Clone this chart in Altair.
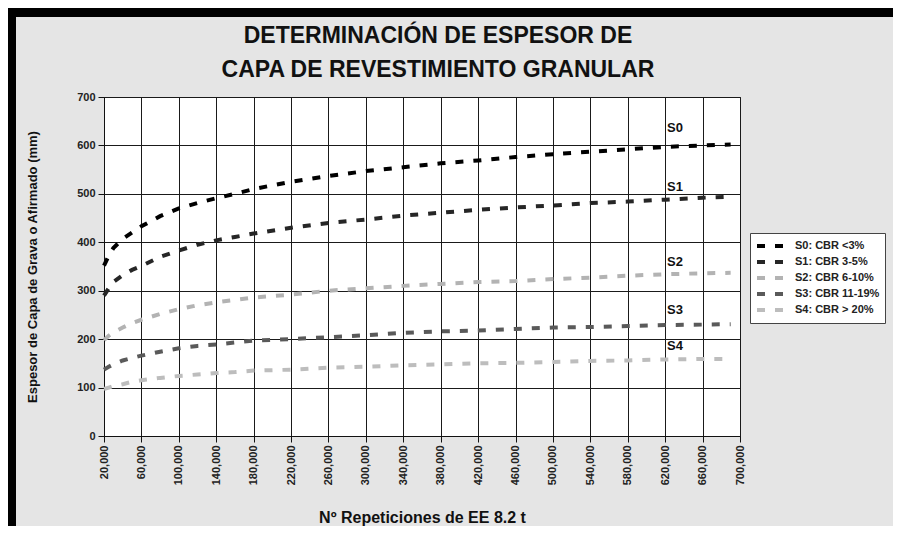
import altair as alt
import pandas as pd

# N° repetitions of 8.2 t equivalent axles (x values of the curves)
reps = [20000, 25000, 30000, 40000, 50000, 60000, 80000, 100000, 120000, 140000,
        160000, 180000, 220000, 260000, 300000, 340000, 380000, 420000, 460000,
        500000, 540000, 580000, 620000, 660000, 690000]

# thickness (mm) for each subgrade class
s0 = [352, 372, 388, 407, 420, 433, 454, 470, 481, 491, 500, 510, 525, 537, 547,
      555, 563, 569, 576, 582, 587, 592, 597, 600, 602]
s1 = [290, 305, 318, 332, 343, 351, 370, 383, 395, 404, 411, 418, 430, 440, 447,
      455, 461, 467, 472, 476, 481, 484, 488, 492, 494]
s2 = [198, 207, 214, 224, 233, 240, 252, 262, 270, 276, 281, 286, 292, 300, 305,
      310, 314, 318, 320, 324, 327, 331, 334, 336, 337]
s3 = [137, 143, 148, 156, 161, 166, 174, 181, 186, 189, 193, 197, 200, 204, 208,
      213, 216, 218, 221, 224, 225, 227, 229, 230, 231]
s4 = [97, 100, 103, 107, 112, 115, 120, 124, 127, 130, 132, 135, 137, 141, 143,
      146, 148, 150, 151, 153, 155, 156, 158, 159, 159]

series_names = ["S0: CBR <3%", "S1: CBR 3-5%", "S2: CBR 6-10%", "S3: CBR 11-19%", "S4: CBR > 20%"]
series_colors = ["#000000", "#262626", "#b3b3b3", "#5a5a5a", "#bdbdbd"]

x_ticks = [20000, 60000, 100000, 140000, 180000, 220000, 260000, 300000, 340000,
           380000, 420000, 460000, 500000, 540000, 580000, 620000, 660000, 700000]
y_ticks = [0, 100, 200, 300, 400, 500, 600, 700]

# in-plot curve tags (data coordinates)
tag_text = ["S0", "S1", "S2", "S3", "S4"]
tag_x = [622000, 622000, 622000, 622000, 622000]
tag_y = [637, 515, 360, 260, 185]

rows = []
for name, vals in zip(series_names, [s0, s1, s2, s3, s4]):
    for r, v in zip(reps, vals):
        rows.append({"reps": r, "e": v, "serie": name})
df = pd.DataFrame(rows)
tags = pd.DataFrame({"t": tag_text, "x": tag_x, "y": tag_y})

FONT = "Liberation Sans"

xscale = alt.Scale(domain=[20000, 700000], nice=False, zero=False)
yscale = alt.Scale(domain=[0, 700], nice=False, zero=True)

lines = alt.Chart(df).mark_line(strokeWidth=4, strokeDash=[8, 10], strokeCap="butt").encode(
    x=alt.X("reps:Q", scale=xscale,
            axis=alt.Axis(values=x_ticks, tickCount=len(x_ticks) + 2, format=",d",
                          labelAngle=-90, labelOverlap=False,
                          title="Nº Repeticiones de EE 8.2 t")),
    y=alt.Y("e:Q", scale=yscale,
            axis=alt.Axis(values=y_ticks, tickCount=len(y_ticks) + 2,
                          title="Espesor de Capa de Grava o Afirmado (mm)")),
    color=alt.Color("serie:N", scale=alt.Scale(domain=series_names, range=series_colors),
                    legend=alt.Legend(title=None, orient="none", legendX=646, legendY=136,
                                      fillColor="white", strokeColor="#444", padding=5,
                                      symbolType="M-1,0H4", symbolStrokeWidth=4,
                                      symbolDash=[8, 10], symbolSize=144,
                                      labelFont=FONT, labelFontSize=11, labelFontWeight="bold",
                                      labelColor="#222", labelOffset=24, rowPadding=0,
                                      labelLimit=200)),
)

labels = alt.Chart(tags).mark_text(align="left", baseline="middle", font=FONT,
                                   fontSize=13, fontWeight="bold", color="#111").encode(
    x=alt.X("x:Q", scale=xscale), y=alt.Y("y:Q", scale=yscale), text="t:N")

one = pd.DataFrame({"a": [0]})
top_bar = alt.Chart(one).mark_rect(color="black").encode(
    x=alt.value(-96), x2=alt.value(800), y=alt.value(-89), y2=alt.value(-80))
left_bar = alt.Chart(one).mark_rect(color="black").encode(
    x=alt.value(-96), x2=alt.value(-88), y=alt.value(-89), y2=alt.value(440))

chart = alt.layer(top_bar, left_bar, lines, labels).properties(
    width=636, height=339,
    autosize=alt.AutoSizeParams(type="none"),
    padding={"left": 96, "top": 89, "right": 153, "bottom": 90},
    background="#e5e5e5",
    title=alt.TitleParams(["DETERMINACIÓN DE ESPESOR DE", "CAPA DE REVESTIMIENTO GRANULAR"],
                          font=FONT, fontSize=23, fontWeight="bold", color="#111",
                          anchor="middle", frame="group", dx=16, offset=-74, lineHeight=34),
).configure_view(fill="white", stroke="#222", strokeWidth=1).configure_axis(
    labelFont=FONT, labelFontSize=11, labelFontWeight="bold", labelColor="#222",
    titleFont=FONT, titleFontWeight="bold", titleColor="#111",
    domainColor="#111", tickColor="#111", tickSize=6,
    grid=True, gridColor="#1a1a1a", gridWidth=1, gridOpacity=1,
).configure_axisY(titleFontSize=13, titlePadding=37, labelPadding=3
).configure_axisX(titleFontSize=16, titlePadding=25, labelPadding=3)

chart.save("out.html", embed_options={"renderer": "svg", "actions": False})
